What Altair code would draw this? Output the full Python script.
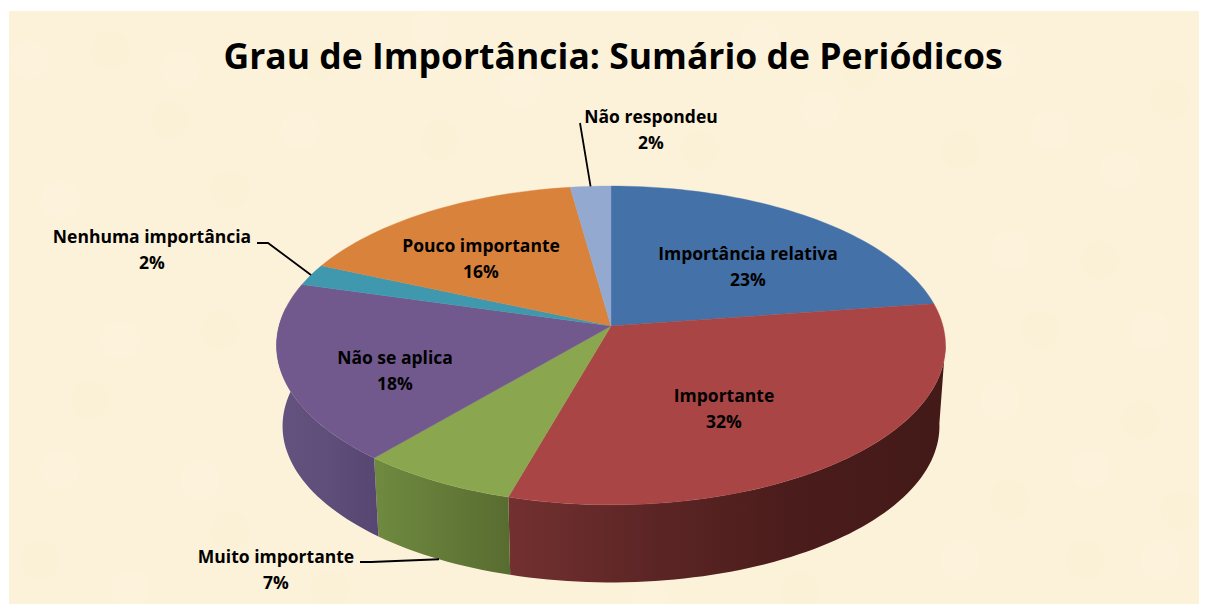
import math
import altair as alt

TITLE = "Grau de Importância: Sumário de Periódicos"
CATEGORIES = ["Importância relativa", "Importante", "Muito importante", "Não se aplica",
              "Nenhuma importância", "Pouco importante", "Não respondeu"]
SHARES = [22.7, 31.7, 6.8, 18.2, 2.2, 16.2, 2.2]
COLORS = ["#4472a8", "#a94544", "#8aa64f", "#71598e", "#4098af", "#d9823c", "#93a9d0"]

# layout of the tilted disc (page pixels)
CX, TOP_Y, A, B, K = 611, 326, 332, 157, 0.122
FLOOR_Y, FLOOR_A, FLOOR_B = 407, 326, 154
OFF_X, OFF_Y = 8, 8
FONT = "Open Sans"
BASE = "#fcf2da"
IDENTITY = dict(type="identity", scale=1, translate=[0, 0])


def page(x, y):
    return [x - OFF_X, y - OFF_Y]


def project(theta, r=1.0, floor=False):
    t = math.radians(theta)
    X, Y = r * math.sin(t), r * math.cos(t)
    w = 1 + K * Y
    a, b, y0 = (FLOOR_A, FLOOR_B, FLOOR_Y) if floor else (A, B, TOP_Y)
    return page(CX + a * X / w, y0 - b * Y / w)


def arc(t0, t1, floor=False):
    n = max(2, int(abs(t1 - t0) / 1.5))
    return [project(t0 + (t1 - t0) * i / n, floor=floor) for i in range(n + 1)]


def pct_angle(p):
    return p * 3.6


def shape(geom_type, coords, **mark):
    feature = {"type": "Feature", "properties": {},
               "geometry": {"type": geom_type, "coordinates": coords}}
    return alt.Chart(alt.Data(values=[feature])).mark_geoshape(**mark).project(**IDENTITY)


def gradient(stops):
    return alt.Gradient(gradient="linear", x1=0, x2=1, y1=0, y2=0,
                        stops=[alt.GradientStop(offset=o, color=c) for o, c in stops])


def wall(t0, t1, stops):
    ring = arc(t0, t1) + arc(t1, t0, floor=True)
    ring.append(ring[0])
    return shape("Polygon", [ring], fill=gradient(stops), strokeWidth=0)


layers = []

# parchment background
L, T = page(9, 11)
R, Bt = 1191, 596
layers.append(shape("Polygon", [[[L, T], [R, T], [R, Bt], [L, Bt], [L, T]]], fill=BASE, strokeWidth=0))

# soft mottling of the paper
LIGHT = [(30, 60), (180, 70), (60, 200), (300, 130), (520, 90), (820, 110), (1000, 60), (1120, 170),
         (1010, 250), (1150, 330), (1000, 400), (1090, 470), (960, 560), (1160, 560), (120, 340), (60, 470),
         (200, 480), (130, 590), (650, 600), (760, 40), (430, 30), (1050, 130)]
DARK = [(170, 120), (110, 50), (320, 60), (230, 190), (440, 140), (860, 70), (960, 150), (1170, 100),
        (1100, 260), (1040, 330), (1140, 420), (1010, 500), (1085, 560), (220, 330), (90, 400), (40, 560),
        (230, 530), (330, 590), (800, 590), (700, 150), (1180, 510)]
for pts, col, op in [(LIGHT, "#fef6e8", 0.25), (DARK, "#f9eec9", 0.22)]:
    layers.append(
        alt.Chart(alt.Data(values=[dict(zip("xy", page(x, y))) for x, y in pts]))
        .mark_circle(color=col, opacity=op, size=1500)
        .encode(longitude="x:Q", latitude="y:Q")
        .project(**IDENTITY)
    )

# cumulative boundaries
edges = [0]
for s in SHARES:
    edges.append(edges[-1] + s)

# side wall, drawn left to right so the gradients read across the picture
layers.append(wall(pct_angle(edges[2]), 96,
                   [(0, "#733030"), (0.3, "#5e2626"), (0.65, "#4a1c1b"), (1, "#431a18")]))
layers.append(wall(pct_angle(edges[3]), pct_angle(edges[2]),
                   [(0, "#6f8a40"), (1, "#586c30")]))
layers.append(wall(277, pct_angle(edges[3]),
                   [(0, "#65537f"), (0.5, "#5f4d7a"), (1, "#574671")]))

# top face
for i, col in enumerate(COLORS):
    ring = [project(0, 0)] + arc(pct_angle(edges[i]), pct_angle(edges[i + 1])) + [project(0, 0)]
    layers.append(shape("Polygon", [ring], fill=col, stroke=col, strokeWidth=0.4))

# leader lines
LEADERS = [
    [page(257, 243), page(268, 243), project(pct_angle(edges[4] + SHARES[4] / 2))],
    [page(360, 562), page(371, 562), project(pct_angle(edges[2] + SHARES[2] / 2), floor=True)],
    [page(580, 123), project(pct_angle(edges[6] + SHARES[6] / 2))],
]
for line in LEADERS:
    layers.append(shape("LineString", line, filled=False, stroke="#000000", strokeWidth=1.8))

# labels
LABEL_XY = [(748, 255), (724, 397), (276, 558), (395, 359), (152, 238), (481, 247), (651, 118)]
LINE_GAP = 26
rows = []
for name, share, (x, y) in zip(CATEGORIES, SHARES, LABEL_XY):
    rows.append(dict(zip("xy", page(x, y)), t=name))
    rows.append(dict(zip("xy", page(x, y + LINE_GAP)), t=f"{round(share)}%"))
layers.append(
    alt.Chart(alt.Data(values=rows))
    .mark_text(font=FONT, fontWeight="bold", fontSize=17.5, color="#000000", align="center", baseline="middle")
    .encode(longitude="x:Q", latitude="y:Q", text="t:N")
    .project(**IDENTITY)
)
layers.append(
    alt.Chart(alt.Data(values=[dict(zip("xy", page(613, 58)), t=TITLE)]))
    .mark_text(font=FONT, fontWeight="bold", fontSize=35.5, color="#000000", align="center", baseline="middle")
    .encode(longitude="x:Q", latitude="y:Q", text="t:N")
    .project(**IDENTITY)
)

chart = (
    alt.layer(*layers)
    .properties(width=1191, height=596, padding=0, background="#ffffff",
                autosize=alt.AutoSizeParams(type="none"))
    .configure_view(stroke=None)
)
chart.save("out.html", embed_options={"renderer": "svg", "actions": False})
